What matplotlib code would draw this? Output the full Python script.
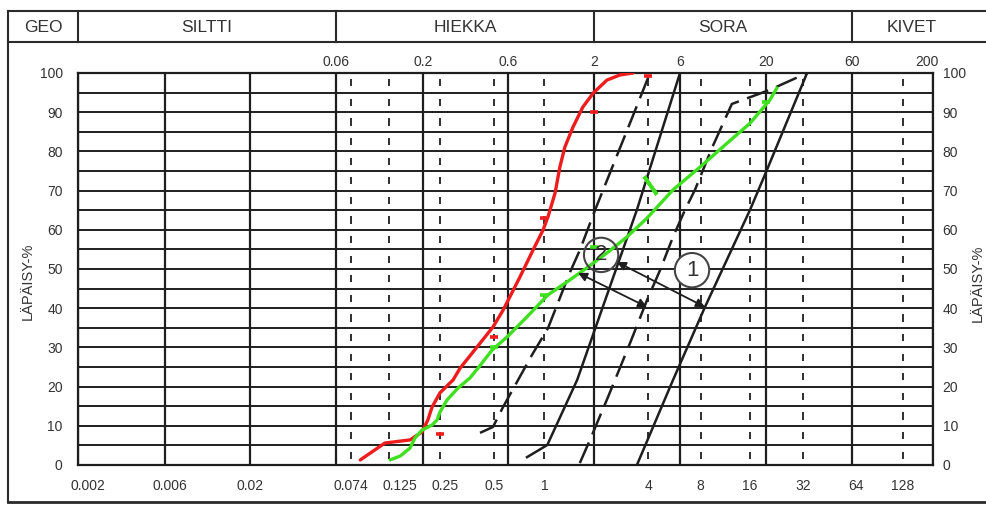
import numpy as np
import matplotlib
matplotlib.use("Agg")
import matplotlib.pyplot as plt
from matplotlib.lines import Line2D
from matplotlib.transforms import Affine2D

plt.rcParams['font.family'] = ['Liberation Sans', 'DejaVu Sans']

# grain size chart (GEO classification)
knots = [0.002, 0.006, 0.02, 0.06, 0.2, 0.6, 2, 6, 20, 60, 200]
knot_px = [78, 165, 250, 336, 423, 508, 594, 680, 766, 852, 933]   # printed (not exactly log) spacing
top_labels = ['0.06', '0.2', '0.6', '2', '6', '20', '60', '200']
top_values = [0.06, 0.2, 0.6, 2, 6, 20, 60, 200]
sieves = [0.074, 0.125, 0.25, 0.5, 1, 4, 8, 16, 32, 128]
bottom_values = [0.002, 0.006, 0.02, 0.074, 0.125, 0.25, 0.5, 1, 4, 8, 16, 32, 64, 128]
bottom_labels = ['0.002', '0.006', '0.02', '0.074', '0.125', '0.25', '0.5', '1',
                 '4', '8', '16', '32', '64', '128']
classes = ['GEO', 'SILTTI', 'HIEKKA', 'SORA', 'KIVET']

# sample curves (passing %)
red_d = [0.084, 0.118, 0.167, 0.197, 0.213, 0.225, 0.249, 0.295, 0.323, 0.402, 0.494,
         0.563, 0.710, 0.851, 0.979, 1.05, 1.16, 1.24, 1.33, 1.49, 1.71, 1.98, 2.36, 2.79, 3.29]
red_p = [1.3, 5.6, 6.4, 8.4, 11.5, 14.8, 18.4, 21.7, 24.7, 30.1, 35.2,
         39.5, 48.0, 54.8, 59.9, 63.3, 69.4, 76.0, 81.1, 86.2, 91.3, 94.9, 98.2, 99.5, 100]
red_pts_d = [0.25, 0.5, 1, 2, 4]
red_pts_p = [8.0, 32.7, 63.0, 90.0, 99.2]

green_d = [0.127, 0.146, 0.167, 0.179, 0.197, 0.225, 0.240, 0.249, 0.273, 0.314, 0.367,
           0.407, 0.488, 0.594, 0.783, 1.05, 1.37, 1.81, 2.36, 3.05, 3.94, 5.49, 7.94,
           11.6, 16.0, 21.0, 23.0]
green_p = [1.3, 2.3, 4.3, 6.9, 8.9, 10.2, 11.5, 13.5, 16.6, 19.6, 22.2,
           24.7, 29.3, 32.7, 37.8, 43.4, 46.7, 50.3, 54.1, 58.2, 63.0, 70.2, 76.0,
           82.1, 87.2, 93.1, 96.2]
green_pts_d = [0.5, 1, 2, 20]
green_pts_p = [30.0, 43.4, 55.6, 92.5]

# guide zones: dashed (2) and solid (1) boundaries
dash_a_d = [0.418, 0.494, 0.563, 0.84, 1.05, 1.43, 1.64, 2.03, 2.62, 3.25, 4.09]
dash_a_p = [8.2, 9.7, 14.8, 28.1, 34.9, 49.2, 54.8, 65.1, 77.8, 88.5, 100]
solid_b_d = [0.783, 1.04, 1.58, 3.46, 6.0]
solid_b_p = [2.0, 5.1, 21.7, 65.1, 100]
dash_c_d = [1.64, 1.89, 2.39, 3.17, 3.94, 4.65, 5.49, 6.44, 7.40, 9.39, 12.4, 21.0, 33.8]
dash_c_p = [0.5, 6.4, 17.3, 31.1, 42.1, 49.7, 58.2, 65.1, 70.2, 80.9, 92.1, 95.7, 100]
solid_d_d = [3.46, 5.49, 8.51, 16.0, 20.0, 33.8]
solid_d_p = [0.0, 21.7, 40.3, 65.1, 74.7, 100]

W, H = 986, 505
lk = np.log10(knots)


def fwd(d):
    d = np.asarray(d, dtype=float)
    return np.interp(np.log10(np.clip(d, 1e-9, None)), lk, knot_px)


def inv(x):
    return 10 ** np.interp(np.asarray(x, dtype=float), knot_px, lk)


fig = plt.figure(figsize=(W / 100, H / 100), dpi=100)
ax = fig.add_axes([78 / W, 40 / H, 855 / W, 392 / H])
ax.set_xscale('function', functions=(fwd, inv))
ax.set_xlim(0.002, 200)
ax.set_ylim(0, 100)

ink = '#1e1e1e'
txt = '#333333'

# grid
ax.hlines(np.arange(0, 101, 5), 0.002, 200, color=ink, lw=1.4, zorder=1)
ax.vlines(knots, 0, 100, color=ink, lw=1.6, zorder=1)
for s in sieves:
    for k in range(20):
        ax.vlines(s, 5 * k + 1.6, 5 * k + 3.4, color=ink, lw=1.3, zorder=1)
for sp in ax.spines.values():
    sp.set_color(ink)
    sp.set_linewidth(1.6)

# guide lines
ax.plot(dash_a_d, dash_a_p, color=ink, lw=1.8, dashes=(9, 3.5), zorder=3)
ax.plot(solid_b_d, solid_b_p, color=ink, lw=1.8, zorder=3)
ax.plot(dash_c_d, dash_c_p, color=ink, lw=1.8, dashes=(9, 3.5), zorder=3)
ax.plot(solid_d_d, solid_d_p, color=ink, lw=1.8, zorder=3)

# samples
ax.plot(red_d, red_p, color='#ee1c1c', lw=2.4, solid_capstyle='round',
        solid_joinstyle='round', zorder=4)
ax.plot(red_pts_d, red_pts_p, ls='none', marker='_', ms=6, mew=2.6, color='#ee1c1c', zorder=4)
ax.plot(green_d, green_p, color='#3fe01f', lw=2.4, solid_capstyle='round',
        solid_joinstyle='round', zorder=5)
ax.plot(green_pts_d, green_pts_p, ls='none', marker='_', ms=6, mew=2.6, color='#3fe01f', zorder=5)
ax.plot([4.1], [71.5], ls='none', marker=(2, 2, 35), ms=16, mew=2.6, color='#3fe01f', zorder=5)

# zone arrows and numbers
arrow = dict(arrowstyle='<|-|>', color=ink, lw=1.3, mutation_scale=13, shrinkA=0, shrinkB=0)
ax.annotate('', xy=(3.94, 40.3), xytext=(1.60, 49.0), arrowprops=arrow, zorder=6)
ax.annotate('', xy=(8.51, 40.3), xytext=(2.68, 51.8), arrowprops=arrow, zorder=6)
ax.text(2.19, 53.6, '2', ha='center', va='center', fontsize=16, color=txt, zorder=6,
        bbox=dict(boxstyle='circle,pad=0.3', fc='none', ec='#444', lw=1.5))
ax.text(7.10, 49.7, '1', ha='center', va='center', fontsize=16, color=txt, zorder=7,
        bbox=dict(boxstyle='circle,pad=0.3', fc='white', ec='#444', lw=1.5))

# axis labels
ax.set_xticks(bottom_values)
ax.set_xticklabels(bottom_labels)
ax.tick_params(axis='x', length=0, pad=10, labelsize=10, labelcolor=txt)
shift = {'0.002': 10, '0.006': 5, '0.125': 11, '0.25': 5}
for lab in ax.get_xticklabels():
    dx = shift.get(lab.get_text(), 0)
    if dx:
        lab.set_transform(lab.get_transform() + Affine2D().translate(dx, 0))
ax.set_yticks(range(0, 101, 10))
ax.tick_params(axis='y', length=0, pad=11, labelsize=10, labelcolor=txt)
ax2 = ax.twinx()
ax2.set_ylim(0, 100)
ax2.set_yticks(range(0, 101, 10))
ax2.tick_params(axis='y', length=0, pad=7, labelsize=10, labelcolor=txt)
for sp in ax2.spines.values():
    sp.set_visible(False)

for v, lab in zip(top_values, top_labels):
    dx = -6 if lab == '200' else 0
    ax.annotate(lab, xy=(v, 1), xycoords=('data', 'axes fraction'), xytext=(dx, 4),
                textcoords='offset pixels', ha='center', va='bottom', fontsize=10, color=txt)

fig.text(28 / W, 1 - 281 / H, 'LÄPÄISY-%', rotation=90, ha='center', va='center',
         fontsize=10.5, color=txt)
fig.text(978 / W, 1 - 283 / H, 'LÄPÄISY-%', rotation=90, ha='center', va='center',
         fontsize=10.5, color=txt)

# header band and outer frame
def fline(x0, y0, x1, y1, lw=1.5):
    fig.add_artist(Line2D([x0 / W, x1 / W], [1 - y0 / H, 1 - y1 / H],
                          transform=fig.transFigure, color='#2a2a2a', lw=lw))

fline(8, 11, 986, 11)
fline(8, 42, 986, 42)
fline(8, 11, 8, 502)
fline(8, 502, 986, 502, lw=2)
for xp in [78, 336, 594, 852]:
    fline(xp, 11, xp, 42)
for name, xc in zip(classes, [43, 207, 465, 723, 912]):
    fig.text(xc / W, 1 - 27 / H, name, ha='center', va='center', fontsize=12.5, color=txt)

fig.savefig('out.png', dpi=100, facecolor='white')
